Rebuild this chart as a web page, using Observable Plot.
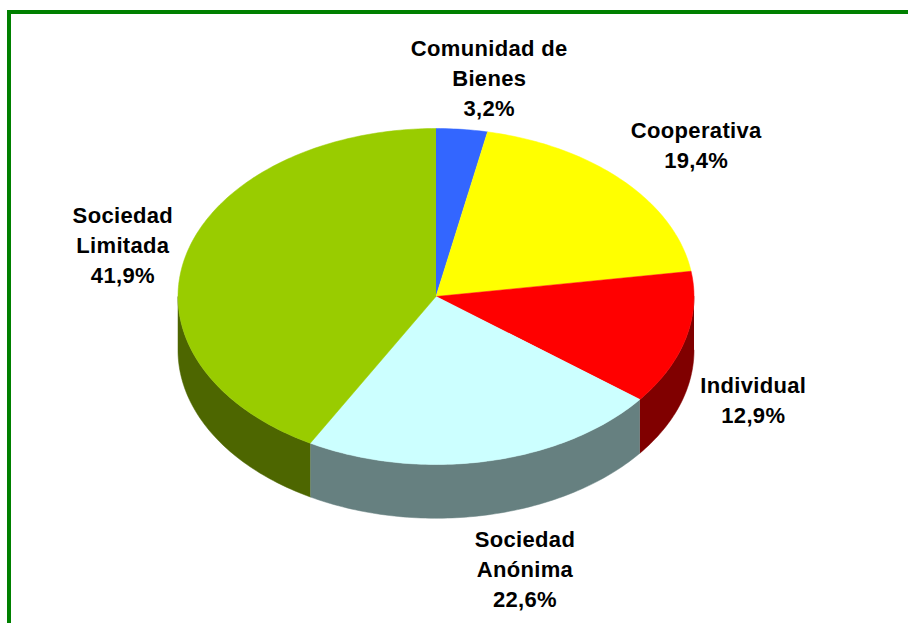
<!DOCTYPE html>
<html>
<head>
<meta charset="utf-8">
<script src="https://cdn.jsdelivr.net/npm/d3@7"></script>
<script src="https://cdn.jsdelivr.net/npm/@observablehq/plot@0.6"></script>
<style>
  html, body { margin: 0; padding: 0; background: #fff; overflow: hidden; }
  #frame { position: absolute; left: 7px; top: 10px; width: 901px; height: 613px; border-left: 4px solid #008000; border-top: 4px solid #008000; box-sizing: border-box; }
  #chart { position: absolute; left: 0; top: 0; }
</style>
</head>
<body>
<div id="frame"></div>
<div id="chart"></div>
<script>
const categories = ["Comunidad de\nBienes", "Cooperativa", "Individual", "Sociedad\nAnónima", "Sociedad\nLimitada"];
const shares = [3.2, 19.4, 12.9, 22.6, 41.9];
const shareLabels = ["3,2%", "19,4%", "12,9%", "22,6%", "41,9%"];
const topColors = ["#3366ff", "#ffff00", "#ff0000", "#ccffff", "#99cc00"];
const sideColors = ["#1a3380", "#808000", "#800000", "#668080", "#4d6600"];

// label placement relative to the ellipse point at each slice's mid-angle (pie units)
const labelOffsetX = [0.106, 0.284, 0.262, 0.145, -0.246];
const labelOffsetY = [-0.315, -0.222, 0.356, 0.632, -0.062];

const depth = 0.32;       // wall height in pie units
const total = d3.sum(shares);
const toRad = p => (p / total) * 2 * Math.PI;
const px = a => Math.sin(a);
const py = a => -Math.cos(a);

let acc = 0;
const slices = shares.map((v, i) => {
  const s = { i, start: toRad(acc), end: toRad(acc + v) };
  acc += v;
  return s;
});
const arc = (a0, a1) => {
  const n = Math.max(2, Math.ceil((a1 - a0) / (Math.PI / 180)));
  return d3.range(n + 1).map(k => a0 + (a1 - a0) * k / n);
};

const topPoints = slices.flatMap(s => [
  { i: s.i, x: 0, y: 0 },
  ...arc(s.start, s.end).map(a => ({ i: s.i, x: px(a), y: py(a) }))
]);
// walls: only the front half of the rim is visible
const sidePoints = slices.flatMap(s => {
  const a0 = Math.max(s.start, Math.PI / 2), a1 = Math.min(s.end, 3 * Math.PI / 2);
  if (a1 <= a0) return [];
  const rim = arc(a0, a1);
  return [
    ...rim.map(a => ({ i: s.i, x: px(a), y: py(a) })),
    ...rim.slice().reverse().map(a => ({ i: s.i, x: px(a), y: py(a) + depth }))
  ];
});
const labels = slices.map(s => {
  const m = (s.start + s.end) / 2;
  return {
    x: px(m) + labelOffsetX[s.i],
    y: py(m) + labelOffsetY[s.i],
    text: categories[s.i] + "\n" + shareLabels[s.i]
  };
});

const plot = Plot.plot({
  width: 908,
  height: 623,
  margin: 0,
  style: { background: "transparent", letterSpacing: "0.33px" },
  x: { domain: [-1, 1], range: [177.5, 693.5], axis: null },
  y: { domain: [-1, 1], range: [128, 464], axis: null },
  marks: [
    Plot.line(sidePoints, { x: "x", y: "y", z: "i", fill: d => sideColors[d.i], stroke: d => sideColors[d.i], strokeWidth: 0.5, curve: "linear" }),
    Plot.line(topPoints, { x: "x", y: "y", z: "i", fill: d => topColors[d.i], stroke: d => topColors[d.i], strokeWidth: 0.5, curve: "linear" }),
    Plot.text(labels, { x: "x", y: "y", text: "text", fontFamily: "Liberation Sans", fontWeight: "bold", fontSize: 22, lineHeight: 1.36, fill: "#000" })
  ]
});
document.getElementById("chart").appendChild(plot);
</script>
</body>
</html>
